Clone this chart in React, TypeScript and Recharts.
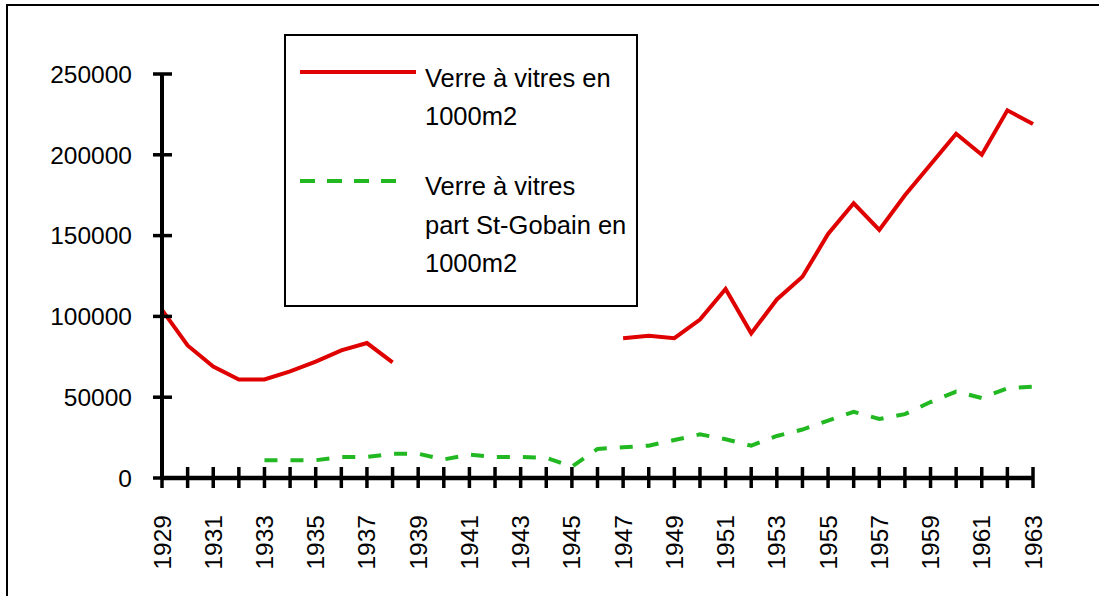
import React from "react";
import { Legend, Line, LineChart, XAxis, YAxis } from "recharts";

// Categories (years) and the two series
const years = [
	"1929", "1930", "1931", "1932", "1933", "1934", "1935", "1936", "1937", "1938",
	"1939", "1940", "1941", "1942", "1943", "1944", "1945", "1946", "1947", "1948",
	"1949", "1950", "1951", "1952", "1953", "1954", "1955", "1956", "1957", "1958",
	"1959", "1960", "1961", "1962", "1963",
];

// Verre à vitres en 1000m2 (no data 1939-1946)
const verreTotal: (number | null)[] = [
	104000, 82000, 69000, 61000, 61000, 66000, 72000, 79000, 83500, 71500,
	null, null, null, null, null, null, null, null, 86500, 88000,
	86500, 98000, 117000, 89500, 110500, 124500, 151000, 170000, 153500, 175000,
	194000, 213000, 200000, 227500, 219000,
];

// Verre à vitres part St-Gobain en 1000m2 (no data 1929-1932)
const verreStGobain: (number | null)[] = [
	null, null, null, null, 11000, 11000, 11000, 13000, 13000, 15000,
	15000, 11500, 14500, 13000, 13000, 12500, 7000, 18000, 19000, 20000,
	23500, 27000, 24000, 20000, 26000, 30000, 35500, 41000, 36500, 39500,
	47000, 53500, 49500, 55500, 56500,
];

const yTicks = [0, 50000, 100000, 150000, 200000, 250000];

const seriesNames = {
	total: "Verre à vitres en 1000m2",
	stGobain: "Verre à vitres part St-Gobain en 1000m2",
};

const RED = "#df0000";
const GREEN = "#22b822";
const FONT = '"Liberation Sans", Arial, sans-serif';

const chartData = years.map((year, i) => ({
	year,
	total: verreTotal[i],
	stGobain: verreStGobain[i],
}));

const YTick = (props: any): React.ReactElement => {
	const { x, y, payload } = props;
	return (
		<g>
			<line x1={x - 9} x2={x + 10} y1={y} y2={y} stroke="#000" strokeWidth={3.5} />
			<text
				x={x - 30}
				y={y}
				dy="0.36em"
				textAnchor="end"
				fill="#000"
				fontSize={24.5}
				fontFamily={FONT}
			>
				{payload.value}
			</text>
		</g>
	);
};

const XTick = (props: any): React.ReactElement => {
	const { x, y, payload, index } = props;
	return (
		<g>
			<line x1={x} x2={x} y1={y - 11} y2={y + 10} stroke="#000" strokeWidth={3.5} />
			{index % 2 === 0 && (
				<text
					transform={`translate(${x + 8.5},${y + 37}) rotate(-90)`}
					textAnchor="end"
					fill="#000"
					fontSize={24.5}
					fontFamily={FONT}
				>
					{payload.value}
				</text>
			)}
		</g>
	);
};

const renderLegend = (): React.ReactElement => {
	const textStyle: React.CSSProperties = {
		position: "absolute",
		left: 139,
		fontSize: 25.5,
		fontFamily: FONT,
		color: "#000",
		lineHeight: "25px",
		whiteSpace: "nowrap",
	};
	return (
		<div
			style={{
				position: "relative",
				width: 354,
				height: 273,
				border: "2px solid #000",
				boxSizing: "border-box",
				background: "#fff",
			}}
		>
			<svg width={130} height={200} style={{ position: "absolute", left: 0, top: 0 }}>
				<line x1={14} x2={130} y1={36} y2={36} stroke={RED} strokeWidth={4} />
				<line
					x1={14}
					x2={112}
					y1={145}
					y2={145}
					stroke={GREEN}
					strokeWidth={4}
					strokeDasharray="15 12"
				/>
			</svg>
			<div style={{ ...textStyle, top: 30 }}>Verre à vitres en</div>
			<div style={{ ...textStyle, top: 68 }}>1000m2</div>
			<div style={{ ...textStyle, top: 138 }}>Verre à vitres</div>
			<div style={{ ...textStyle, top: 177 }}>part St-Gobain en</div>
			<div style={{ ...textStyle, top: 215 }}>1000m2</div>
		</div>
	);
};

export default function App(): React.ReactElement {
	return (
		<div
			style={{
				position: "absolute",
				left: 0,
				top: 0,
				width: 1099,
				height: 596,
				overflow: "hidden",
				background: "#fff",
			}}
		>
			<div
				style={{
					position: "absolute",
					left: 6,
					top: 4,
					width: 1200,
					height: 700,
					border: "2px solid #000",
				}}
			/>
			<div style={{ position: "absolute", left: 0, top: 0 }}>
				<LineChart
					width={1099}
					height={596}
					data={chartData}
					margin={{ top: 74, right: 66, bottom: 0, left: 0 }}
				>
					<XAxis
						dataKey="year"
						height={118}
						interval={0}
						tickSize={0}
						tickMargin={0}
						tickLine={false}
						axisLine={{ stroke: "#000", strokeWidth: 4.5 }}
						tick={<XTick />}
					/>
					<YAxis
						width={162}
						domain={[0, 250000]}
						ticks={yTicks}
						interval={0}
						tickSize={0}
						tickMargin={0}
						tickLine={false}
						axisLine={{ stroke: "#000", strokeWidth: 4 }}
						tick={<YTick />}
					/>
					<Legend
						layout="horizontal"
						verticalAlign="middle"
						align="center"
						wrapperStyle={{ left: 284, top: 34, width: 354, height: 273 }}
						content={renderLegend}
					/>
					<Line
						name={seriesNames.total}
						dataKey="total"
						type="linear"
						stroke={RED}
						strokeWidth={4}
						dot={false}
						activeDot={false}
						isAnimationActive={false}
					/>
					<Line
						name={seriesNames.stGobain}
						dataKey="stGobain"
						type="linear"
						stroke={GREEN}
						strokeWidth={4}
						strokeDasharray="13 13"
						dot={false}
						activeDot={false}
						isAnimationActive={false}
					/>
				</LineChart>
			</div>
		</div>
	);
}
